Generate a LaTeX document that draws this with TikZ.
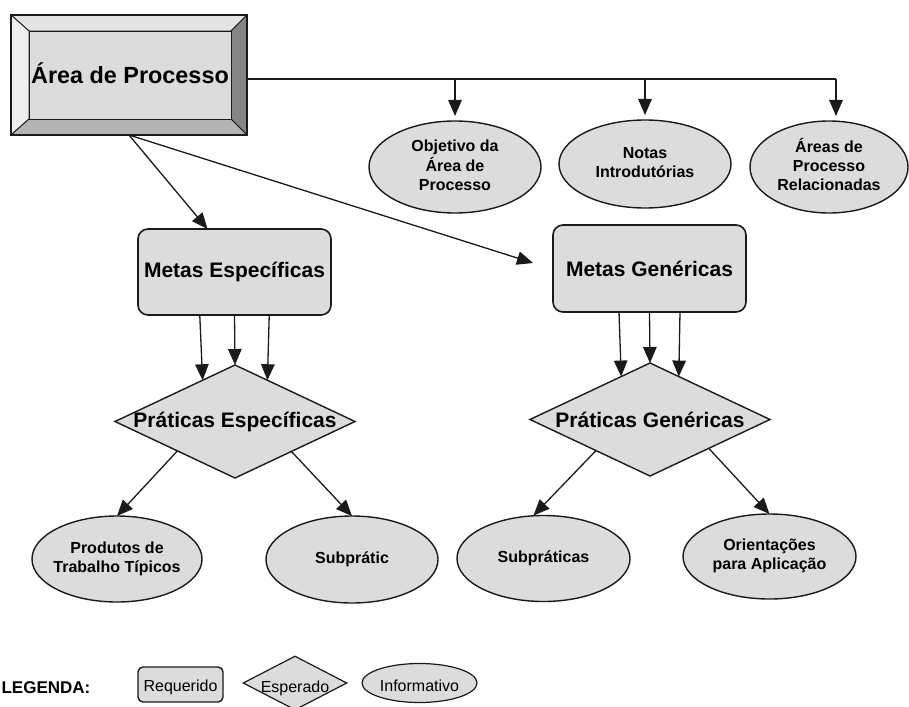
\documentclass[tikz,border=0pt]{standalone}
\usepackage{fontspec}
\setmainfont{Liberation Sans}
\usetikzlibrary{arrows.meta,shapes.geometric,calc}

\definecolor{facegray}{HTML}{DCDCDC}
\definecolor{bevtop}{HTML}{E4E4E4}
\definecolor{bevleft}{HTML}{EEEEEE}
\definecolor{bevright}{HTML}{858585}
\definecolor{bevbottom}{HTML}{B3B3B3}
\definecolor{inkline}{HTML}{1A1A1A}

% zero-width centred blocks, so a shape's size comes only from its minimum size
\newcommand{\zw}[1]{\makebox[0pt][c]{\begin{tabular}{@{}c@{}}#1\end{tabular}}}
\newcommand{\zl}[1]{\makebox[0pt][c]{#1}}
% legend labels sit a little below the centre of their shapes
\newcommand{\zlow}[2]{\makebox[0pt][c]{\raisebox{-#1}[\height][\depth]{#2}}}

\begin{document}
\begin{tikzpicture}[x=1pt,y=-1pt,
  conn/.style={draw=inkline, line width=1.3pt},
  arr/.style={conn, -{Triangle[length=16pt,width=13.5pt]}},
  reqbox/.style={draw=inkline, line width=1.6pt, fill=facegray, rounded corners=10pt,
    inner sep=0pt, outer sep=0pt, font=\fontsize{21}{25}\selectfont\bfseries},
  expdiam/.style={diamond, draw=inkline, line width=1.4pt, fill=facegray,
    inner sep=0pt, outer sep=0pt, minimum width=240pt, minimum height=113pt,
    font=\fontsize{21}{25}\selectfont\bfseries},
  infoell/.style={ellipse, draw=inkline, line width=1.4pt, fill=facegray,
    inner sep=0pt, outer sep=0pt, font=\fontsize{16}{19}\selectfont\bfseries},
  legtext/.style={font=\fontsize{16}{19}\selectfont}
]
\useasboundingbox (0,0) rectangle (909,706);

% ---- process area block with bevelled frame ----
\node[minimum width=236pt, minimum height=120pt, inner sep=0pt, outer sep=0pt] (area) at (129,75) {};
\coordinate (iNW) at ($(area.north west)+(18,16)$);
\coordinate (iNE) at ($(area.north east)+(-16,16)$);
\coordinate (iSW) at ($(area.south west)+(18,-16)$);
\coordinate (iSE) at ($(area.south east)+(-16,-16)$);
\begin{scope}[draw=inkline, line width=0.9pt]
  \filldraw[fill=bevtop] (area.north west) -- (area.north east) -- (iNE) -- (iNW) -- cycle;
  \filldraw[fill=bevleft] (area.north west) -- (iNW) -- (iSW) -- (area.south west) -- cycle;
  \filldraw[fill=bevright] (area.north east) -- (area.south east) -- (iSE) -- (iNE) -- cycle;
  \filldraw[fill=bevbottom] (area.south west) -- (area.south east) -- (iSE) -- (iSW) -- cycle;
  \filldraw[fill=facegray] (iNW) rectangle (iSE);
\end{scope}
\draw[draw=inkline, line width=1.6pt] (area.north west) rectangle (area.south east);
\node[font=\fontsize{23.4}{28}\selectfont\bfseries, inner sep=0pt] (areatxt) at (130,73) {Área de Processo};

% ---- informative nodes on the top row ----
\node[infoell, minimum width=172pt, minimum height=92pt] (obj) at (455,167) {\zw{Objetivo da\\Área de\\Processo}};
\node[infoell, minimum width=172pt, minimum height=88pt] (notas) at (645,164) {\zw{Notas\\Introdutórias}};
\node[infoell, minimum width=158pt, minimum height=92pt] (rel) at (829,167) {\zw{Áreas de\\Processo\\Relacionadas}};

% ---- goals ----
\node[reqbox, minimum width=193pt, minimum height=86pt] (mE) at (234.5,272) {Metas Específicas};
\node[reqbox, minimum width=193pt, minimum height=87pt] (mG) at (649.5,268.5) {Metas Genéricas};

% ---- practices ----
\node[expdiam] (dE) at (235,421.5) {\zl{Práticas Específicas}};
\node[expdiam] (dG) at (650,419.5) {\zl{Práticas Genéricas}};

% ---- informative nodes on the bottom row ----
\node[infoell, minimum width=170pt, minimum height=86pt] (prod) at (117,559) {\zw{Produtos de\\Trabalho Típicos}};
\node[infoell, minimum width=172pt, minimum height=87pt] (sub1) at (352,559.5) {\zl{Subprátic}};
\node[infoell, minimum width=173pt, minimum height=86pt] (sub2) at (543.5,558.5) {\zl{Subpráticas}};
\node[infoell, minimum width=173pt, minimum height=85pt] (ori) at (769.5,556.5) {\zw{Orientações\\para Aplicação}};

% ---- bus from the process area to the top row ----
\coordinate (b0) at ($(area.east)+(0,4)$);
\coordinate (b1) at (455,79);
\coordinate (b2) at (645,79);
\coordinate (b3) at (836,79);
\draw[conn] (b0) -- (b3);
\draw[arr, shorten >=5pt] (b1) -- (obj.north);
\draw[arr, shorten >=5pt] (b2) -- (notas.north);
\draw[arr, shorten >=5pt] (b3) -- (b3 |- rel.north);

% ---- process area to goals ----
\coordinate (gTip) at (533,263);
\draw[arr] (area.south) -- ($(mE.north west)!0.36!(mE.north east)$);
\draw[arr] (area.south) -- (gTip);

% ---- goals to practices ----
\draw[arr] ($(mE.south west)!0.32!(mE.south east)$) -- ($(dE.north)!0.27!(dE.west)$);
\draw[arr] (mE.south) -- (dE.north);
\draw[arr] ($(mE.south west)!0.68!(mE.south east)$) -- ($(dE.north)!0.27!(dE.east)$);

\draw[arr] ($(mG.south west)!0.342!(mG.south east)$) -- ($(dG.north)!0.24!(dG.west)$);
\draw[arr] (mG.south) -- (dG.north);
\draw[arr] ($(mG.south west)!0.658!(mG.south east)$) -- ($(dG.north)!0.24!(dG.east)$);

% ---- practices to informative items ----
\draw[arr] ($(dE.west)!0.52!(dE.south)$) -- (prod.north);
\draw[arr] ($(dE.south)!0.47!(dE.east)$) -- (sub1.north);
\draw[arr] ($(dG.west)!0.55!(dG.south)$) -- ([xshift=-10pt]sub2.north);
\draw[arr] ($(dG.south)!0.49!(dG.east)$) -- (ori.north);

% ---- legend ----
\node[font=\fontsize{17}{20}\selectfont\bfseries, inner sep=0pt] (leg) at (46,688) {LEGENDA:};
\node[draw=inkline, line width=1.4pt, fill=facegray, rounded corners=5pt, inner sep=0pt,
  minimum width=85pt, minimum height=35pt, legtext] (lreq) at (180.5,684.5) {\zlow{3pt}{Requerido}};
\node[diamond, draw=inkline, line width=1.2pt, fill=facegray, inner sep=0pt,
  minimum width=104pt, minimum height=54pt, legtext] (lexp) at (295,683) {\zlow{5pt}{Esperado}};
\node[ellipse, draw=inkline, line width=1.2pt, fill=facegray, inner sep=0pt,
  minimum width=115pt, minimum height=39pt, legtext] (linf) at (419.5,683) {\zlow{3pt}{Informativo}};
\end{tikzpicture}
\end{document}
